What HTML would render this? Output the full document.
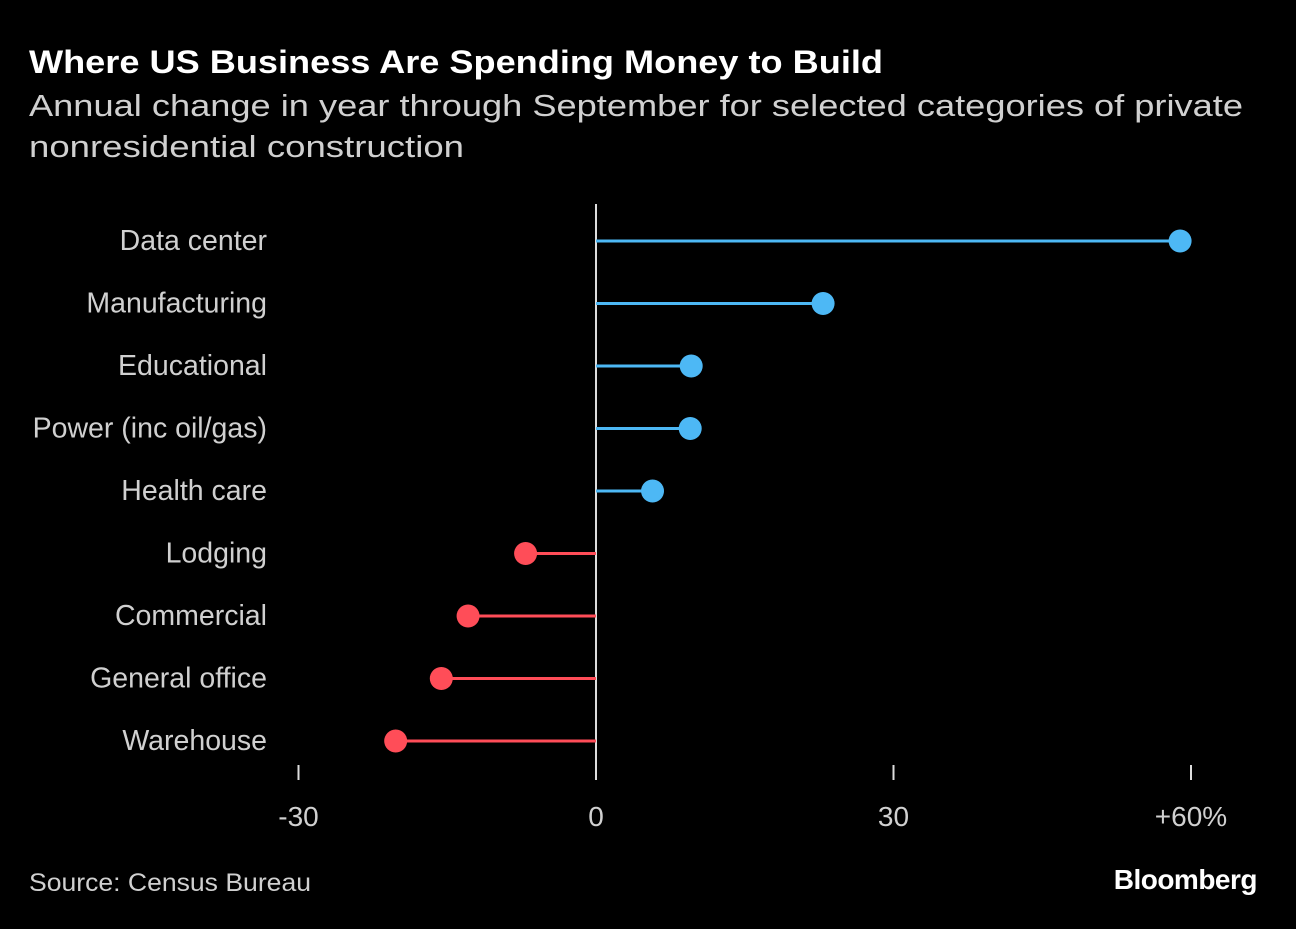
<!DOCTYPE html>
<html><head><meta charset="utf-8"><style>
body{margin:0;background:#000;width:1296px;height:924px;overflow:hidden;font-family:"Liberation Sans",sans-serif;}
</style></head><body>
<svg width="1296" height="924" xmlns="http://www.w3.org/2000/svg">
<text x="29" y="73" fill="#fff" font-size="32" font-weight="bold" textLength="854" lengthAdjust="spacingAndGlyphs">Where US Business Are Spending Money to Build</text>
<text x="29" y="116" fill="#d0d0d0" font-size="31" textLength="1214" lengthAdjust="spacingAndGlyphs">Annual change in year through September for selected categories of private</text>
<text x="29" y="157" fill="#d0d0d0" font-size="31" textLength="435" lengthAdjust="spacingAndGlyphs">nonresidential construction</text>
<g id="plot"></g>
<text x="29" y="891" fill="#d0d0d0" font-size="25" textLength="282" lengthAdjust="spacingAndGlyphs">Source: Census Bureau</text>
<text x="1257" y="889" fill="#fff" font-size="28" font-weight="bold" text-anchor="end" letter-spacing="-0.5">Bloomberg</text>
</svg>
<script>
const categories=["Data center","Manufacturing","Educational","Power (inc oil/gas)","Health care","Lodging","Commercial","General office","Warehouse"];
const values=[58.9,22.9,9.6,9.5,5.7,-7.1,-12.9,-15.6,-20.2];
const ticks=[-30,0,30,60];
const tickLabels=["-30","0","30","+60%"];
const ns="http://www.w3.org/2000/svg";
const g=document.getElementById("plot");
const x=v=>596+v*(1191-596)/60;
const y=i=>241+i*62.5;
function mk(t,a){const e=document.createElementNS(ns,t);for(const k in a)e.setAttribute(k,a[k]);g.appendChild(e);return e;}
ticks.forEach((t,i)=>{
  const l=mk("line",{x1:x(t),x2:x(t),y1:765,y2:780,stroke:"#ddd","stroke-width":2});
  
  
  const tx=mk("text",{x:x(t),y:826,fill:"#d0d0d0","font-size":28,"text-anchor":"middle"});
  tx.textContent=tickLabels[i];
  
  
});
const z=mk("line",{x1:x(0),x2:x(0),y1:204,y2:780,stroke:"#ddd","stroke-width":2});


categories.forEach((c,i)=>{
  const col=values[i]>=0?"#4db8f5":"#ff4d58";
  const lb=mk("text",{x:267,y:y(i)+9,fill:"#d0d0d0","font-size":28.5,"text-anchor":"end"});
  lb.textContent=c;
  
  
  const st=mk("line",{x1:x(0),x2:x(values[i]),y1:y(i),y2:y(i),stroke:col,"stroke-width":3});
  
  
  const d=mk("circle",{cx:x(values[i]),cy:y(i),r:11.5,fill:col});
  
  
});
</script>
</body></html>
